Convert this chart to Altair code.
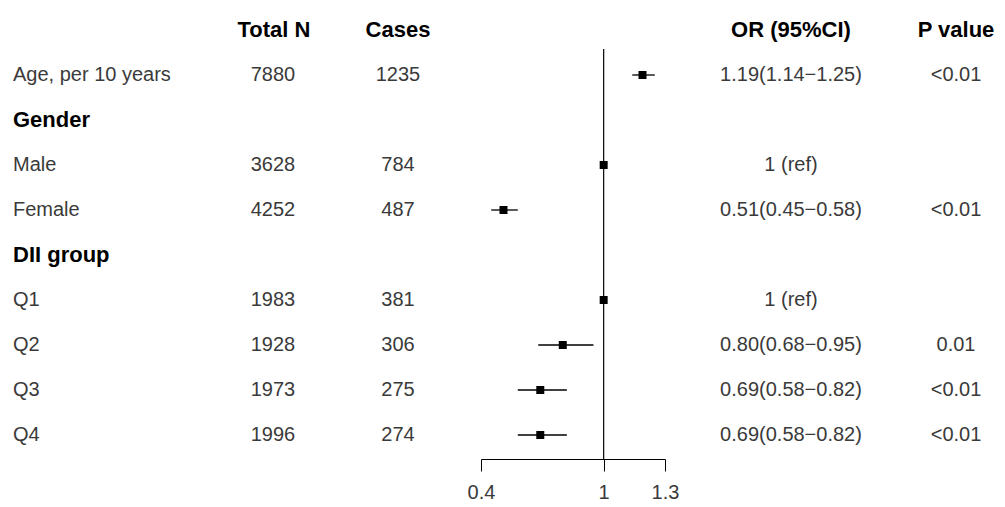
import altair as alt
import pandas as pd

# ---- data ----
labels = ["Age, per 10 years", "Gender", "Male", "Female", "DII group", "Q1", "Q2", "Q3", "Q4"]
is_group = [False, True, False, False, True, False, False, False, False]
total_n = ["7880", "", "3628", "4252", "", "1983", "1928", "1973", "1996"]
cases = ["1235", "", "784", "487", "", "381", "306", "275", "274"]
or_est = [1.19, None, 1.0, 0.51, None, 1.0, 0.80, 0.69, 0.69]
ci_low = [1.14, None, None, 0.45, None, None, 0.68, 0.58, 0.58]
ci_high = [1.25, None, None, 0.58, None, None, 0.95, 0.82, 0.82]
or_text = ["1.19(1.14\u22121.25)", "", "1 (ref)", "0.51(0.45\u22120.58)", "",
           "1 (ref)", "0.80(0.68\u22120.95)", "0.69(0.58\u22120.82)", "0.69(0.58\u22120.82)"]
p_text = ["<0.01", "", "", "<0.01", "", "", "0.01", "<0.01", "<0.01"]
headers = ["Total N", "Cases", "OR (95%CI)", "P value"]
axis_ticks = [0.4, 1, 1.3]

df = pd.DataFrame({
    "row": list(range(len(labels))),
    "label": labels,
    "group": is_group,
    "n": total_n,
    "cases": cases,
    "est": or_est,
    "lo": ci_low,
    "hi": ci_high,
    "ortxt": or_text,
    "p": p_text,
})

FONT = "Liberation Sans"
REG = 20
BOLD = 22
TXT = "#3a3a3a"

x_scale = alt.Scale(domain=[0.4, 1.3], range=[473, 657], nice=False, zero=False)
y_scale = alt.Scale(domain=[-1, 8], range=[22, 427], nice=False, zero=False)
x_axis = alt.Axis(values=axis_ticks, format="~g", grid=False, title=None,
                  domainColor="black", domainWidth=1, tickColor="black", tickWidth=1,
                  tickSize=12, labelFont=FONT, labelFontSize=REG, labelColor=TXT,
                  labelPadding=11, labelFlush=False)

Y = alt.Y("row:Q", scale=y_scale, axis=None)


def col_text(field, xpix, align="center"):
    return (alt.Chart(df)
            .transform_filter(f"datum.{field} != ''")
            .mark_text(align=align, baseline="middle", font=FONT, fontSize=REG, color=TXT)
            .encode(x=alt.value(xpix), y=Y, text=f"{field}:N"))


def header(txt, xpix):
    return (alt.Chart(pd.DataFrame({"row": [-1], "h": [txt]}))
            .mark_text(align="center", baseline="middle", font=FONT, fontSize=BOLD,
                       fontWeight="bold", color="black")
            .encode(x=alt.value(xpix), y=Y, text="h:N"))


labels_reg = (alt.Chart(df).transform_filter("!datum.group")
              .mark_text(align="left", baseline="middle", font=FONT, fontSize=REG, color=TXT)
              .encode(x=alt.value(5), y=Y, text="label:N"))
labels_bold = (alt.Chart(df).transform_filter("datum.group")
               .mark_text(align="left", baseline="middle", font=FONT, fontSize=BOLD,
                          fontWeight="bold", color="black")
               .encode(x=alt.value(5), y=Y, text="label:N"))

ref_line = (alt.Chart(pd.DataFrame({"v": [1.0]}))
            .mark_rule(color="black", strokeWidth=1.2)
            .encode(x=alt.X("v:Q", scale=x_scale, axis=x_axis),
                    y=alt.value(41), y2=alt.value(451)))

ci = (alt.Chart(df).transform_filter("isValid(datum.lo)")
      .mark_rule(color="black", strokeWidth=1.3)
      .encode(x=alt.X("lo:Q", scale=x_scale, axis=x_axis), x2="hi:Q", y=Y))

pts = (alt.Chart(df).transform_filter("isValid(datum.est)")
       .mark_square(size=64, color="black", opacity=1, filled=True)
       .encode(x=alt.X("est:Q", scale=x_scale, axis=x_axis), y=Y))

chart = alt.layer(
    ref_line, ci, pts,
    labels_reg, labels_bold,
    col_text("n", 265), col_text("cases", 390),
    col_text("ortxt", 783), col_text("p", 948),
    header(headers[0], 266), header(headers[1], 390),
    header(headers[2], 783), header(headers[3], 948),
).properties(
    width=989, height=451,
    autosize=alt.AutoSizeParams(type="none"),
    padding={"left": 0, "top": 0, "right": 0, "bottom": 45},
    background="white",
).configure_view(stroke=None)

chart.save("out.html", embed_options={"renderer": "svg", "actions": False})
